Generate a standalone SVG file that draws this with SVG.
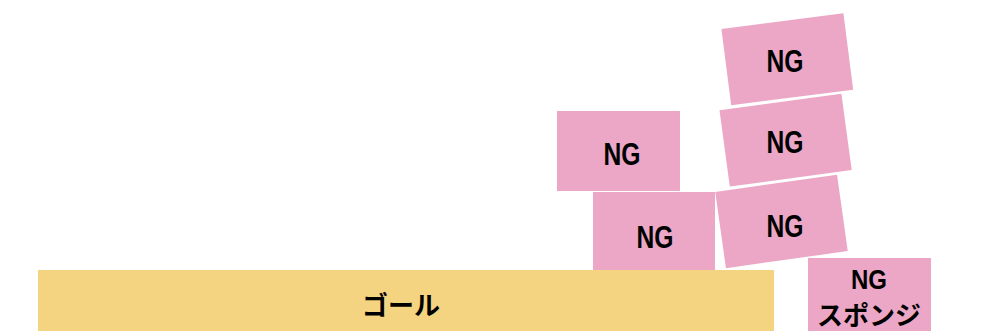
<svg xmlns="http://www.w3.org/2000/svg" width="981" height="331" viewBox="0 0 981 331">
<style>
.box{fill:#EBA7C5;}
.goal{fill:#F4D381;}
text{font-family:"Liberation Sans","Noto Sans CJK JP",sans-serif;font-weight:bold;fill:#000;text-anchor:middle;}
.ng{font-size:31px;}
.jp{font-size:26px;font-family:"Noto Sans CJK JP",sans-serif;}
</style>
<rect width="981" height="331" fill="#fff"/>
<g id="goal">
<rect class="goal" x="38" y="270" width="736" height="61"/>
<text class="jp" x="401" y="315">ゴール</text>
</g>
<g id="ngA">
<rect class="box" x="557" y="111" width="123" height="80"/>
<text class="ng" x="622" y="165" textLength="37" lengthAdjust="spacingAndGlyphs">NG</text>
</g>
<g id="ngB">
<rect class="box" x="593" y="192" width="122" height="78"/>
<text class="ng" x="655" y="248" textLength="37" lengthAdjust="spacingAndGlyphs">NG</text>
</g>
<g id="ngC">
<rect class="box" x="-61.5" y="-38.5" width="123" height="77" transform="translate(781.5 221.5) rotate(-8)"/>
<text class="ng" x="785" y="237" textLength="37" lengthAdjust="spacingAndGlyphs">NG</text>
</g>
<g id="ngD">
<rect class="box" x="-61.5" y="-38.5" width="123" height="77" transform="translate(785.6 140.2) rotate(-7.7)"/>
<text class="ng" x="785" y="153" textLength="37" lengthAdjust="spacingAndGlyphs">NG</text>
</g>
<g id="ngE">
<rect class="box" x="-61.5" y="-38.5" width="123" height="77" transform="translate(787.3 59.3) rotate(-7.3)"/>
<text class="ng" x="785" y="72" textLength="37" lengthAdjust="spacingAndGlyphs">NG</text>
</g>
<g id="sponge">
<rect class="box" x="808" y="258" width="123" height="73"/>
<text x="869" y="289" font-size="28" textLength="36" lengthAdjust="spacingAndGlyphs">NG</text>
<text class="jp" x="869" y="325">スポンジ</text>
</g>
<g id="connectors"/>
</svg>
